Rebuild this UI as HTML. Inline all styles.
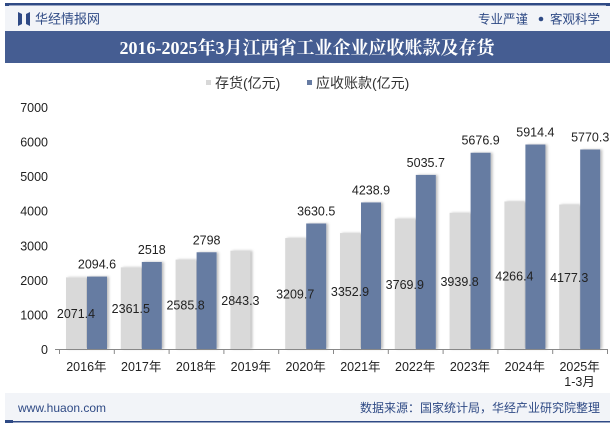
<!DOCTYPE html>
<html><head><meta charset="utf-8"><style>
body{margin:0;width:615px;height:427px;background:#fff;font-family:"Liberation Sans","Noto Sans CJK SC",sans-serif;overflow:hidden}
</style></head><body>
<svg width="615" height="427" xmlns="http://www.w3.org/2000/svg" font-family="Liberation Sans, Noto Sans CJK SC, sans-serif">
<defs><filter id="sh" x="-20%" y="-5%" width="150%" height="110%"><feDropShadow dx="2" dy="0" stdDeviation="1.2" flood-color="#000" flood-opacity="0.25"/></filter></defs>
<rect x="5" y="3" width="605" height="2.5" fill="#2f4a85"/>
<rect x="5" y="3" width="4" height="4" fill="#2f4a85"/><rect x="606" y="3" width="4" height="4" fill="#2f4a85"/>
<rect x="5" y="6" width="605" height="25" fill="#f2f4f8"/>
<path d="M18 12 L22 14 L22 24 L18 26 Z M26 14 L30 12 L30 26 L26 24 Z" fill="#2f4a85"/>
<text x="35" y="23.5" font-size="13" fill="#2f4a85">华经情报网</text>
<text x="478" y="23.5" font-size="12.5" fill="#2f4a85">专业严谨</text>
<circle cx="541" cy="19" r="2.3" fill="#2f4a85"/>
<text x="550" y="23.5" font-size="12.5" fill="#2f4a85">客观科学</text>
<rect x="5" y="31" width="605" height="32" fill="#455d92"/>
<text x="307" y="54" font-size="18" font-weight="bold" fill="#fff" text-anchor="middle" font-family="Liberation Serif, Noto Serif CJK SC, serif">2016-2025年3月江西省工业企业应收账款及存货</text>
<rect x="206" y="80" width="5" height="5" fill="#d8d8d8"/>
<text x="215" y="88" font-size="14" fill="#333">存货(亿元)</text>
<rect x="307" y="80" width="5" height="5" fill="#667ba2"/>
<text x="316" y="88" font-size="14" fill="#333">应收账款(亿元)</text>
<g id="yaxis"></g><g id="bars"></g><g id="xaxis"></g>
<rect x="5" y="393" width="605" height="28" fill="#f2f4f8"/>
<rect x="5" y="421" width="605" height="1.5" fill="#2f4a85"/>
<rect x="5" y="420" width="8" height="3" fill="#2f4a85"/>
<text x="18" y="412" font-size="12" fill="#2f4a85">www.huaon.com</text>
<text x="600" y="412" font-size="12" fill="#2f4a85" text-anchor="end">数据来源：国家统计局，华经产业研究院整理</text>
</svg>
<script>
const categories=["2016年","2017年","2018年","2019年","2020年","2021年","2022年","2023年","2024年","2025年"];
const inventory=[2071.4,2361.5,2585.8,2843.3,3209.7,3352.9,3769.9,3939.8,4266.4,4177.3];
const receivables=[2094.6,2518,2798,null,3630.5,4238.9,5035.7,5676.9,5914.4,5770.3];
const yTicks=[0,1000,2000,3000,4000,5000,6000,7000];
const NS="http://www.w3.org/2000/svg";
const x0=59,x1=607,y0=349,yTop=107,yMax=7000;
const band=(x1-x0)/categories.length;
const Y=v=>y0-(v/yMax)*(y0-yTop);
const X=i=>x0+i*band;
function mk(t,a,p,txt){const e=document.createElementNS(NS,t);for(const k in a)e.setAttribute(k,a[k]);if(txt!=null)e.textContent=txt;p.appendChild(e);return e;}
const ya=document.getElementById('yaxis'),bs=document.getElementById('bars'),xa=document.getElementById('xaxis');
yTicks.forEach(v=>{const t=mk('text',{x:48,y:Y(v)+5,'font-size':12.5,fill:'#222','text-anchor':'end'},ya,v);

});
categories.forEach((c,i)=>{
 const gx=X(i)+7,bx=X(i)+28,w=20;
 const g=mk('rect',{x:gx,y:Y(inventory[i]),width:w,height:y0-Y(inventory[i]),fill:'#d9d9d9',filter:'url(#sh)'},bs);
 
 
 if(receivables[i]!=null){
  const b=mk('rect',{x:bx,y:Y(receivables[i]),width:w,height:y0-Y(receivables[i]),fill:'#667ba2',filter:'url(#sh)'},bs);
  
  
  const bl=mk('text',{x:bx+w/2,y:Y(receivables[i])-8,'font-size':12.5,fill:'#222','text-anchor':'middle'},bs,receivables[i]);
  
  
 }
 const gl=mk('text',{x:gx+w/2,y:(Y(inventory[i])+y0)/2+5,'font-size':12.5,fill:'#222','text-anchor':'middle'},bs,inventory[i]);
 
 
 const lx=X(i)+band/2;
 const xl=mk('text',{x:lx,y:371,'font-size':12.5,fill:'#222','text-anchor':'middle'},xa,c);
 
 
 if(i==categories.length-1){const s=mk('text',{x:lx,y:386,'font-size':12.5,fill:'#222','text-anchor':'middle'},xa,'1-3月');
 
 }
});
mk('line',{x1:x0,y1:y0+0.5,x2:x1,y2:y0+0.5,stroke:'#888'},xa);
for(let i=0;i<=categories.length;i++)mk('line',{x1:X(i)+0.5,y1:y0,x2:X(i)+0.5,y2:y0+5,stroke:'#888'},xa);
mk('line',{x1:x0-4,y1:y0+0.5,x2:x0,y2:y0+0.5,stroke:'#888'},xa);
</script>
</body></html>
